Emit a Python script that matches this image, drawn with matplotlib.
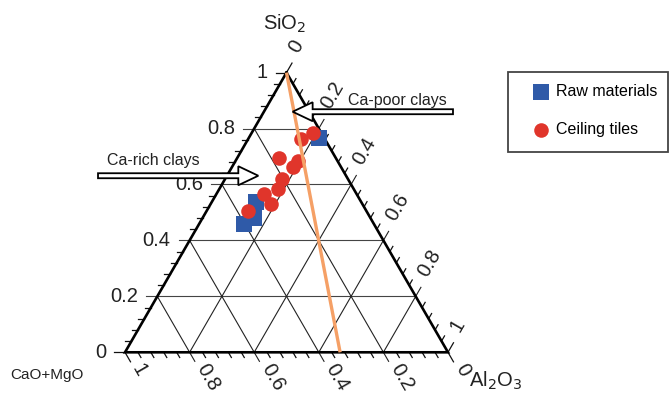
import numpy as np
import matplotlib
matplotlib.use("Agg")
import matplotlib.pyplot as plt
from matplotlib.patches import FancyArrow, Rectangle

plt.rcParams['font.family'] = ['Liberation Sans', 'DejaVu Sans']

# compositions as fractions: SiO2 (top), Al2O3 (right), rest is CaO+MgO
raw_sio2 = [0.767, 0.538, 0.481, 0.458]
raw_al2o3 = [0.218, 0.138, 0.160, 0.140]
tile_sio2 = [0.785, 0.762, 0.696, 0.685, 0.661, 0.619, 0.584, 0.565, 0.529, 0.506]
tile_al2o3 = [0.190, 0.163, 0.129, 0.194, 0.190, 0.176, 0.181, 0.149, 0.186, 0.127]
# orange mixing line, end points
line_sio2 = [1.0, 0.0]
line_al2o3 = [0.0, 0.666]

major_ticks = [0, 0.2, 0.4, 0.6, 0.8, 1]
major_labels = ['0', '0.2', '0.4', '0.6', '0.8', '1']
minor_step = 0.04

H = np.sqrt(3) / 2
PX = 1 / 323.0  # one pixel in triangle units


def tern(si, al):
    si = np.asarray(si, dtype=float)
    al = np.asarray(al, dtype=float)
    return al + si / 2, si * H


fig = plt.figure(figsize=(6.7, 3.93), dpi=100)
ax = fig.add_axes([125 / 670, (393 - 352.3) / 393, 323 / 670, 279.7 / 393])
ax.set_xlim(0, 1)
ax.set_ylim(0, H)
ax.set_aspect('equal')
ax.axis('off')

grid_kw = dict(color='#222222', lw=0.8, solid_capstyle='butt', clip_on=False, zorder=1)
major_len = 11 * PX
minor_len = 6 * PX
d_left = np.array([-1.0, 0.0])
d_bottom = np.array([0.5, -H])
d_right = np.array([0.5, H])

# grid lines, each extended outward as a major tick
for v in major_ticks[1:-1]:
    # SiO2 constant (horizontal)
    x0, y0 = tern(v, 0)
    x1, y1 = tern(v, 1 - v)
    ax.plot([x0 + d_left[0] * major_len, x1], [y0, y1], color='#444444', lw=0.8, clip_on=False, zorder=1)
    # Al2O3 constant
    x0, y0 = tern(0, v)
    x1, y1 = tern(1 - v, v)
    ax.plot([x0, x1 + d_right[0] * major_len], [y0, y1 + d_right[1] * major_len], **grid_kw)
    # CaO+MgO constant
    x0, y0 = tern(1 - v, 0)
    x1, y1 = tern(0, 1 - v)
    ax.plot([x0, x1 + d_bottom[0] * major_len], [y0, y1 + d_bottom[1] * major_len], **grid_kw)

# ticks
minor_vals = np.round(np.arange(0, 1.0001, minor_step), 3)
for v in minor_vals:
    is_major = any(abs(v - m) < 1e-6 for m in major_ticks)
    L = major_len if is_major else minor_len
    if is_major and 0 < v < 1:
        continue
    # left axis (SiO2)
    x, y = tern(v, 0)
    ax.plot([x, x + d_left[0] * L], [y, y], color='#111111', lw=0.9, clip_on=False)
    # bottom axis (CaO+MgO = v)
    x, y = tern(0, 1 - v)
    ax.plot([x, x + d_bottom[0] * L], [y, y + d_bottom[1] * L], color='#111111', lw=0.9, clip_on=False)
    # right axis (Al2O3 = v)
    x, y = tern(1 - v, v)
    ax.plot([x, x + d_right[0] * L], [y, y + d_right[1] * L], color='#111111', lw=0.9, clip_on=False)

# triangle outline
tx, ty = tern([1, 0, 0, 1], [0, 0, 1, 0])
ax.plot(tx, ty, color='black', lw=1.9, solid_joinstyle='miter', clip_on=False, zorder=3)

# tick labels
lab_kw = dict(fontsize=14.5, color='#222222', clip_on=False)
for v, lab in zip(major_ticks, major_labels):
    x, y = tern(v, 0)
    ax.text(x - 19 * PX, y, lab, ha='right', va='center', **lab_kw)
    x, y = tern(0, 1 - v)
    up = np.array([H, 0.5])
    p = np.array([x, y]) + 17 * PX * d_bottom + 3.5 * PX * up
    ax.text(p[0], p[1], lab, rotation=-60, rotation_mode='anchor', ha='left', va='center', **lab_kw)
    x, y = tern(1 - v, v)
    up = np.array([-H, 0.5])
    p = np.array([x, y]) + 22 * PX * d_right + 5 * PX * up
    ax.text(p[0], p[1], lab, rotation=60, rotation_mode='anchor', ha='left', va='center', **lab_kw)

# axis titles
fig.text(285 / 670, 1 - 24 / 393, 'SiO$_2$', ha='center', va='center', fontsize=14.5, color='#222222')
fig.text(496 / 670, 1 - 381 / 393, 'Al$_2$O$_3$', ha='center', va='center', fontsize=14.5, color='#222222')
fig.text(47 / 670, 1 - 375 / 393, 'CaO+MgO', ha='center', va='center', fontsize=11, color='#222222')

# data
rx, ry = tern(raw_sio2, raw_al2o3)
raw = ax.scatter(rx, ry, marker='s', s=125, color='#2f5aa8', lw=0, zorder=4, clip_on=False,
                 label='Raw materials')
cx, cy = tern(tile_sio2, tile_al2o3)
tiles = ax.scatter(cx, cy, marker='o', s=110, color='#e0352b', lw=0, zorder=5, clip_on=False,
                   label='Ceiling tiles')
lx, ly = tern(line_sio2, line_al2o3)
ax.plot(lx, ly, color='#f5a066', lw=2.4, solid_capstyle='butt', zorder=6, clip_on=False)

# annotation arrows
arrow_kw = dict(width=5 * PX, head_width=19 * PX, head_length=20 * PX, length_includes_head=True,
                fc='white', ec='black', lw=1.3, zorder=7, clip_on=False)
ax.add_patch(FancyArrow(1.0155, 0.7449, 0.519 - 1.0155, 0, **arrow_kw))
ax.add_patch(FancyArrow(-0.0836, 0.5467, 0.4127 + 0.0836, 0, **arrow_kw))
ax.text(0.690, 0.781, 'Ca-poor clays', ha='left', va='center', fontsize=11.5, color='#222222', clip_on=False)
ax.text(-0.0567, 0.595, 'Ca-rich clays', ha='left', va='center', fontsize=11.5, color='#222222', clip_on=False)

# legend
fig.add_artist(Rectangle((508 / 670, 1 - 152 / 393), 160 / 670, 80 / 393, transform=fig.transFigure,
                         fill=False, ec='#444444', lw=1.3))
ax.legend(handles=[raw, tiles], loc='upper left', bbox_to_anchor=(533 / 670, 1 - 84.5 / 393),
          bbox_transform=fig.transFigure, frameon=False, borderpad=0, borderaxespad=0,
          handlelength=1.0, handletextpad=0.44, labelspacing=1.4, fontsize=11.5, scatterpoints=1)

fig.savefig('out.png', dpi=100)
